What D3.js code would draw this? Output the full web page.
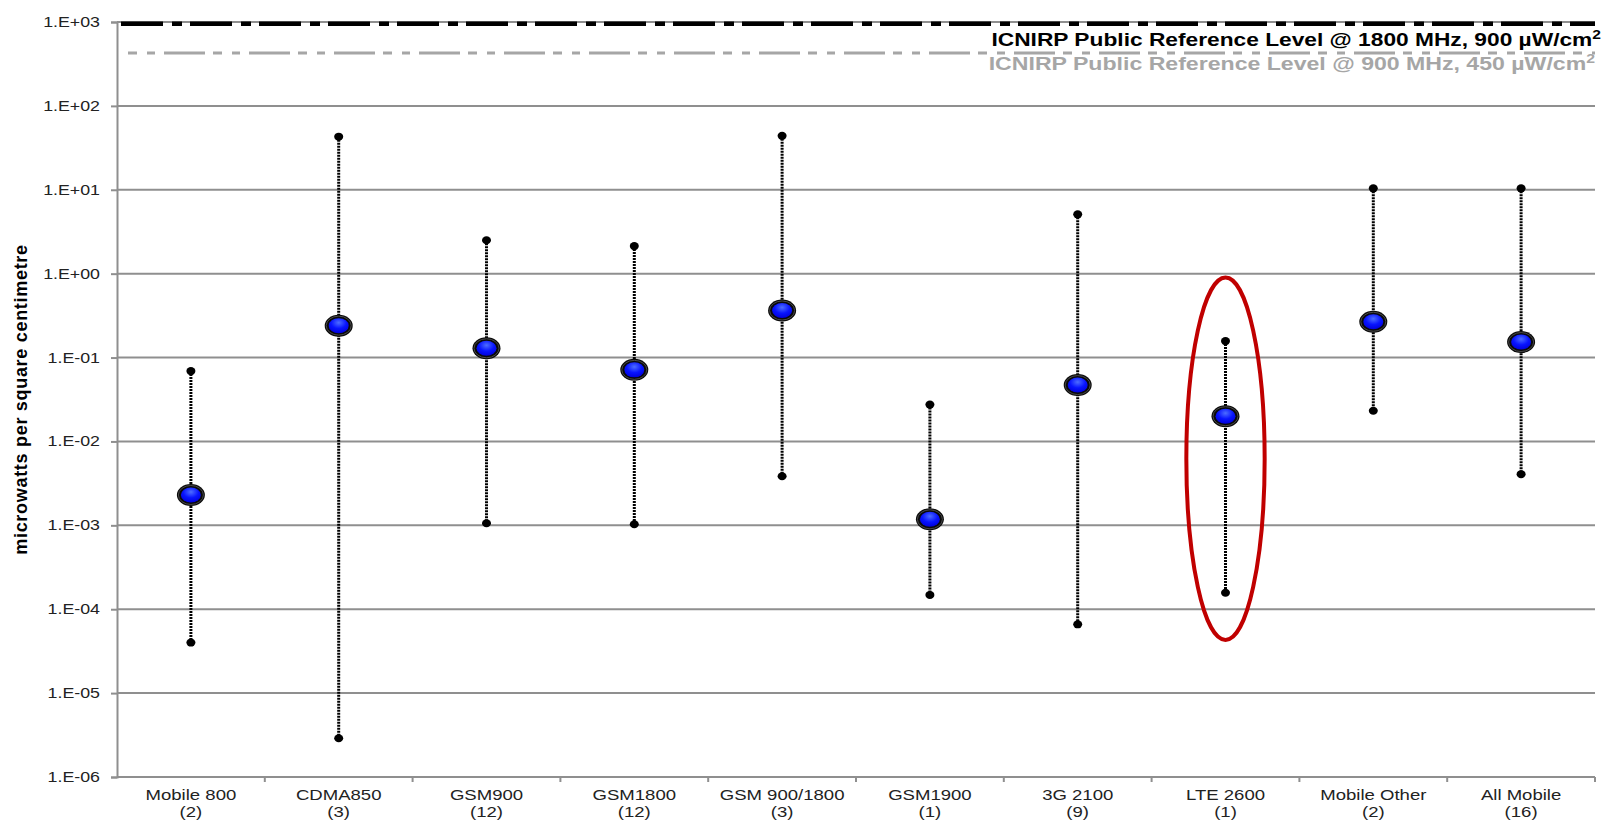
<!DOCTYPE html>
<html>
<head>
<meta charset="utf-8">
<script src="https://cdn.jsdelivr.net/npm/d3@7"></script>
<style>
  body { margin: 0; background: #fff; }
  svg { display: block; font-family: "Liberation Sans", Arial, sans-serif; }
</style>
</head>
<body>
<svg id="chart"></svg>
<script>
const categories = ['Mobile 800', 'CDMA850', 'GSM900', 'GSM1800', 'GSM 900/1800', 'GSM1900', '3G 2100', 'LTE 2600', 'Mobile Other', 'All Mobile']
const counts = [2, 3, 12, 12, 3, 1, 9, 1, 2, 16]
const maxValues = [0.069, 43, 2.5, 2.13, 44, 0.0275, 5.1, 0.157, 10.4, 10.4]
const meanValues = [0.0023, 0.24, 0.129, 0.0714, 0.364, 0.00118, 0.047, 0.020, 0.267, 0.153]
const minValues = [4.0e-5, 2.9e-6, 1.06e-3, 1.03e-3, 3.85e-3, 1.48e-4, 6.6e-5, 1.57e-4, 0.0232, 4.07e-3]

const yTicks = [1e3, 1e2, 1e1, 1, 1e-1, 1e-2, 1e-3, 1e-4, 1e-5, 1e-6]
const yTickLabels = ['1.E+03', '1.E+02', '1.E+01', '1.E+00', '1.E-01', '1.E-02', '1.E-03', '1.E-04', '1.E-05', '1.E-06']

const refLevels = [900, 450]
const refLabels = ['ICNIRP Public Reference Level @ 1800 MHz, 900 µW/cm', 'ICNIRP Public Reference Level @ 900 MHz, 450 µW/cm']

// highlighted category and the span of the red ring around it
const highlight = { category: 'LTE 2600', top: 0.9, bottom: 4.3e-5 }

const data = categories.map((c, i) => ({
    name: c, n: counts[i], max: maxValues[i], mean: meanValues[i], min: minValues[i]
}))

const width = 1603, height = 821
const margin = { top: 22, right: 8, bottom: 44, left: 117 }
const innerW = width - margin.left - margin.right
const innerH = height - margin.top - margin.bottom

// the original picture is stretched sideways, so its text is wider than usual
const stretch = 1.27

const svg = d3.select('#chart').attr('width', width).attr('height', height)

const defs = svg.append('defs')
const grad = defs.append('radialGradient').attr('id', 'blueBall')
    .attr('cx', '50%').attr('cy', '30%').attr('r', '70%')
grad.append('stop').attr('offset', '0%').attr('stop-color', '#4d6dff')
grad.append('stop').attr('offset', '55%').attr('stop-color', '#0814ff')
grad.append('stop').attr('offset', '100%').attr('stop-color', '#0000dc')

const chart = svg.append('g').attr('transform', `translate(${margin.left},${margin.top})`)

const xScale = d3.scaleBand().domain(categories).range([0, innerW])
const yScale = d3.scaleLog().domain([1e-6, 1e3]).range([innerH, 0])

// gridlines
chart.append('g').selectAll('line')
    .data(yTicks.filter(t => t !== 1e-6))
    .join('line')
        .attr('x1', 0).attr('x2', innerW)
        .attr('y1', d => yScale(d)).attr('y2', d => yScale(d))
        .attr('stroke', '#8f8f8f').attr('stroke-width', 2)

// y axis
const yAxis = d3.axisLeft(yScale)
    .tickValues(yTicks)
    .tickFormat((d, i) => yTickLabels[i])
    .tickSize(6)
const yAxisGroup = chart.append('g').call(yAxis)
yAxisGroup.select('.domain').attr('stroke', '#8f8f8f').attr('stroke-width', 2)
yAxisGroup.selectAll('.tick line').attr('stroke', '#8f8f8f').attr('stroke-width', 2)
yAxisGroup.selectAll('.tick text')
    .attr('x', 0)
    .attr('transform', `translate(-17,0) scale(${stretch},1)`)
    .attr('font-size', 14).attr('fill', '#222').attr('font-family', '"Liberation Sans", Arial, sans-serif')

// x axis: ticks between categories
const xAxisGroup = chart.append('g').attr('transform', `translate(0,${innerH})`)
xAxisGroup.append('line')
    .attr('x1', 0).attr('x2', innerW)
    .attr('stroke', '#8f8f8f').attr('stroke-width', 2)
xAxisGroup.selectAll('.sep')
    .data(categories.slice(1).concat(['__end']))
    .join('line')
        .attr('class', 'sep')
        .attr('x1', d => d === '__end' ? innerW : xScale(d))
        .attr('x2', d => d === '__end' ? innerW : xScale(d))
        .attr('y1', 0).attr('y2', 5)
        .attr('stroke', '#8f8f8f').attr('stroke-width', 2)
const xLabels = xAxisGroup.selectAll('.xlab')
    .data(data)
    .join('text')
        .attr('class', 'xlab')
        .attr('transform', d => `translate(${xScale(d.name) + xScale.bandwidth() / 2},0) scale(1.28,1)`)
        .attr('text-anchor', 'middle')
        .attr('font-size', 14.5).attr('fill', '#222')
xLabels.append('tspan').attr('x', 0).attr('y', 23).text(d => d.name)
xLabels.append('tspan').attr('x', 0).attr('y', 40).text(d => `(${d.n})`)

// y axis title
svg.append('text')
    .attr('transform', `translate(27,${margin.top + innerH * 0.5}) rotate(-90)`)
    .attr('text-anchor', 'middle')
    .attr('font-size', 18).attr('font-weight', 'bold').attr('fill', '#000')
    .attr('letter-spacing', 0.7)
    .text('microwatts per square centimetre')

// reference levels
const refStyles = [
    { color: '#000', width: 4.5, dash: '42,9,10,8', offset: 4, shift: -2, right: 1601, base: 46, sx: 1.3 },
    { color: '#a6a6a6', width: 3, dash: '9,10,8,9,41,8', offset: 11, shift: 2, right: 1595, base: 70, sx: 1.32 }
]
refLevels.forEach((v, i) => {
    const s = refStyles[i]
    chart.append('line')
        .attr('x1', s.offset).attr('x2', innerW)
        .attr('y1', yScale(v) + s.shift).attr('y2', yScale(v) + s.shift)
        .attr('stroke', s.color)
        .attr('stroke-width', s.width)
        .attr('stroke-dasharray', s.dash)
})
refLabels.forEach((t, i) => {
    const s = refStyles[i]
    const txt = svg.append('text')
        .attr('transform', `translate(${s.right},${s.base}) scale(${s.sx},1)`)
        .attr('text-anchor', 'end')
        .attr('font-size', 17.5).attr('font-weight', 'bold')
        .attr('fill', s.color)
    txt.append('tspan').text(t)
    txt.append('tspan').attr('dy', -7).attr('font-size', 12).text('2')
})

// range lines
const cx = d => xScale(d.name) + xScale.bandwidth() / 2
chart.append('g').selectAll('line')
    .data(data)
    .join('line')
        .attr('x1', cx).attr('x2', cx)
        .attr('y1', d => yScale(d.max)).attr('y2', d => yScale(d.min))
        .attr('stroke', '#000').attr('stroke-width', 3)
        .attr('stroke-dasharray', '2,1')

// end points
const ends = data.flatMap(d => [{ name: d.name, v: d.max }, { name: d.name, v: d.min }])
chart.append('g').selectAll('ellipse')
    .data(ends)
    .join('ellipse')
        .attr('cx', cx).attr('cy', d => yScale(d.v))
        .attr('rx', 4.5).attr('ry', 4)
        .attr('fill', '#000')

// means
const means = chart.append('g').selectAll('g')
    .data(data)
    .join('g')
        .attr('transform', d => `translate(${cx(d)},${yScale(d.mean)})`)
means.append('ellipse').attr('rx', 14).attr('ry', 11).attr('fill', '#0a0a0a')
means.append('ellipse').attr('rx', 12.5).attr('ry', 9.5).attr('fill', 'none')
    .attr('stroke', '#4a4a4a').attr('stroke-width', 1)
means.append('ellipse').attr('rx', 10).attr('ry', 7.5).attr('fill', 'url(#blueBall)')

// red ring on highlighted category
const hx = xScale(highlight.category) + xScale.bandwidth() / 2
const hTop = yScale(highlight.top), hBottom = yScale(highlight.bottom)
chart.append('ellipse')
    .attr('cx', hx).attr('cy', (hTop + hBottom) / 2)
    .attr('rx', xScale.bandwidth() * 0.265).attr('ry', (hBottom - hTop) / 2)
    .attr('fill', 'none').attr('stroke', '#c00000').attr('stroke-width', 4)
</script>
</body>
</html>
